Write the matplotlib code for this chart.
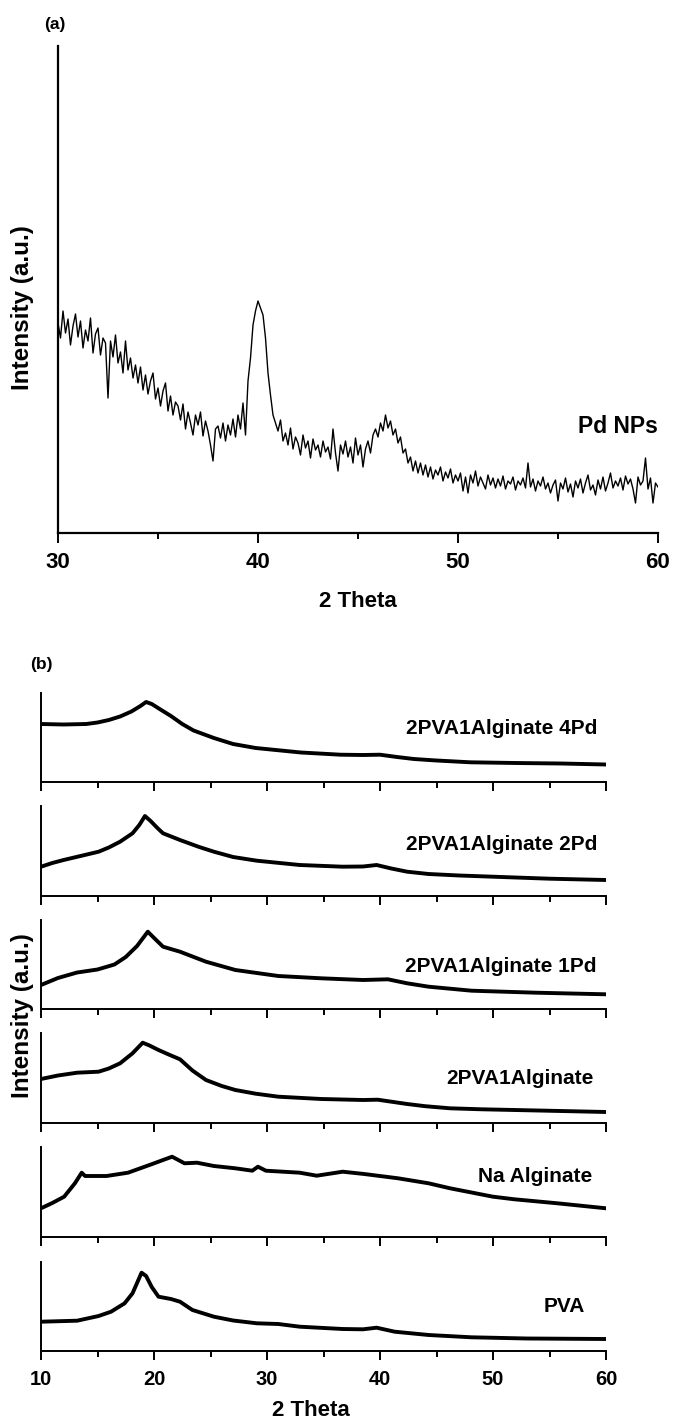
import numpy as np
import matplotlib
matplotlib.use("Agg")
import matplotlib.pyplot as plt
from matplotlib.ticker import MultipleLocator

W, H = 673, 1421
plt.rcParams['font.family'] = ['Liberation Sans', 'DejaVu Sans']
plt.rcParams['font.weight'] = 'bold'

# ---- (a) Pd NPs, counts every 0.125 deg from 30 to 60 ----
pd_start = 30.0
pd_step = 0.125
pd_counts = [
    210, 195, 222, 200, 214, 188, 207, 219,
    196, 212, 185, 203, 192, 215, 180, 199,
    205, 178, 195, 190, 135, 192, 176, 198,
    170, 181, 160, 192, 163, 175, 155, 168,
    150, 166, 143, 158, 139, 152, 160, 134,
    145, 127, 142, 150, 122, 137, 118, 131,
    127, 113, 129, 104, 121, 110, 98, 118,
    108, 121, 97, 112, 102, 88, 72, 104,
    107, 95, 110, 92, 108, 98, 114, 96,
    118, 104, 130, 98, 152, 175, 208, 222,
    232, 225, 218, 195, 160, 138, 118, 110,
    102, 113, 92, 100, 88, 105, 84, 96,
    90, 78, 98, 85, 92, 75, 94, 83,
    88, 76, 92, 81, 86, 74, 104, 80,
    62, 88, 79, 92, 76, 86, 70, 95,
    78, 88, 66, 84, 92, 80, 98, 104,
    96, 110, 102, 118, 105, 112, 98, 104,
    90, 96, 80, 84, 70, 76, 62, 72,
    60, 70, 58, 68, 56, 66, 54, 63,
    58, 66, 52, 61, 55, 64, 50, 58,
    52, 60, 42, 56, 40, 58, 50, 62,
    47, 56, 50, 44, 58, 48, 55, 45,
    54, 47, 57, 44, 52, 49, 56, 43,
    52, 48, 55, 45, 70, 46, 54, 42,
    52, 47, 56, 44, 50, 40, 48, 53,
    32, 50, 44, 55, 41, 49, 36, 52,
    45, 54, 40, 50, 58, 43, 48, 38,
    53, 44, 56, 42, 50, 60, 45, 52,
    47, 55, 43, 57, 49, 54, 44, 30,
    56, 48, 52, 75, 44, 55, 30, 50,
    46,
]

# ---- (b) six patterns, top to bottom ----
names = ["2PVA1Alginate 4Pd", "2PVA1Alginate 2Pd", "2PVA1Alginate 1Pd",
         "2PVA1Alginate", "Na Alginate", "PVA"]

theta_4pd = [10, 12, 14, 15, 16, 17, 18, 18.8, 19.3, 19.8, 20.5, 21.5, 22.5, 23.5,
             25.3, 27, 29, 33, 36.5, 38.5, 40, 41.5, 43, 45, 48, 52, 56, 60]
int_4pd = [58, 57.5, 58, 59.5, 62, 65.5, 70.5, 76, 80, 78, 73, 66, 58, 51.5,
           44, 38, 34, 29.5, 27.3, 27, 27.3, 25, 23, 21.5, 19.7, 19, 18.5, 17.5]

theta_2pd = [10, 11, 12, 13.5, 15.1, 16, 17, 18.1, 18.7, 19.2, 19.7, 20.3, 20.8, 22.3,
             24, 25.3, 27, 29.1, 32.9, 36.7, 38.5, 39.7, 41, 42.4, 44.3, 47, 50, 55, 60]
int_2pd = [29.3, 33, 36, 40, 44.3, 48.5, 54.3, 62.7, 71, 80, 75, 68, 62.7, 56,
           49, 44.3, 39, 35.3, 31, 29.3, 29.5, 31, 27.5, 24.3, 22, 20.5, 19.3, 17.3, 16]

theta_1pd = [10, 11.5, 13.2, 15, 16.5, 17.5, 18.5, 19.45, 20.1, 20.8, 22.3, 24.6,
             27.2, 31, 34.8, 38.5, 40.7, 42.4, 44.3, 48.1, 53.8, 60]
int_1pd = [24, 31, 36.5, 39.5, 44.5, 52, 63, 77.3, 70, 62.3, 57.3, 47.3,
           39, 33, 30.7, 29, 29.7, 25.7, 22.3, 18.3, 16.3, 14.7]

theta_blend = [10, 11.5, 13.2, 15.1, 16, 17, 18.1, 19, 19.6, 20.4, 21.3, 22.3, 23.4, 24.6,
               26, 27.2, 29, 31, 34.8, 38.5, 39.8, 42.4, 44, 46.2, 49, 51.9, 56, 60]
int_blend = [44, 47.5, 50.3, 51.3, 54.5, 59.7, 69.7, 80.3, 77.5, 73, 68.5, 63.7, 52.5, 43,
             37, 33, 29.3, 26.3, 24, 23, 23.3, 19, 16.8, 14.7, 13.7, 13, 12, 11]

theta_alg = [10, 11, 12.05, 13, 13.6, 13.9, 15.8, 17.7, 19.6, 21.6, 22.7, 23.8, 25.3,
             27.2, 28.7, 29.2, 29.9, 32.9, 34.4, 36.7, 38.6, 41.6, 44.3, 46.2, 50,
             51.9, 55.7, 60]
int_alg = [28.7, 34, 40.3, 53.7, 64.3, 61, 61, 64.3, 72, 80.3, 73.7, 74.3, 71,
           68.7, 66.3, 70.3, 66.3, 64.3, 61.3, 65.3, 63, 58.7, 53.7, 48.7, 40.3,
           37.7, 33.7, 28.7]

theta_pva = [10, 13.2, 15.1, 16.2, 17.4, 18.1, 18.5, 18.9, 19.3, 19.8, 20.4, 21.5, 22.3,
             23.4, 25.3, 27, 29.1, 31, 32.9, 36.7, 38.5, 39.7, 41.3, 44.3, 48.1, 53, 60]
int_pva = [29.3, 30.3, 35, 39.3, 47.7, 57.7, 68, 78.3, 75, 64, 54.3, 52, 49.3,
           41, 34.3, 30.5, 27.7, 27, 24.3, 22, 21.7, 23.3, 19.3, 16, 13.7, 12.5, 12]

series_b = [(theta_4pd, int_4pd), (theta_2pd, int_2pd), (theta_1pd, int_1pd),
            (theta_blend, int_blend), (theta_alg, int_alg), (theta_pva, int_pva)]


def box(l, t, r, b):
    return [l / W, 1 - b / H, (r - l) / W, (b - t) / H]


def style_axis(ax, spine_lw):
    ax.spines['top'].set_visible(False)
    ax.spines['right'].set_visible(False)
    ax.spines['left'].set_linewidth(spine_lw)
    ax.spines['bottom'].set_linewidth(spine_lw)
    ax.set_yticks([])
    ax.xaxis.set_major_locator(MultipleLocator(10))
    ax.xaxis.set_minor_locator(MultipleLocator(5))


fig = plt.figure(figsize=(W / 100, H / 100), dpi=100)

# panel (a)
ax_a = fig.add_axes(box(58, 46, 658, 533))
pd_theta = pd_start + pd_step * np.arange(len(pd_counts))
ax_a.plot(pd_theta, pd_counts, color='black', lw=1.0)
ax_a.set_xlim(30, 60)
ax_a.set_ylim(0, 487)
style_axis(ax_a, 1.6)
ax_a.tick_params(axis='x', which='major', direction='out', length=7.5, width=1.4,
                 pad=6, labelsize=16)
ax_a.tick_params(axis='x', which='minor', direction='out', length=4.5, width=1.4)
ax_a.text(60, 100, "Pd NPs", ha='right', va='baseline', fontsize=16.5, fontweight='bold')

fig.text(55 / W, 1 - 25 / H, "(a)", ha='center', va='center', fontsize=12.5, fontweight='bold')
fig.text(23 / W, 1 - 308 / H, "Intensity (a.u.)", rotation=90, ha='center', va='center',
         fontsize=17.5, fontweight='bold')
fig.text(358 / W, 1 - 602 / H, "2 Theta", ha='center', va='center', fontsize=16, fontweight='bold')

# panel (b)
tops = [693, 806, 920, 1033, 1147, 1262]
bottoms = [782, 896, 1009, 1123, 1237, 1351]
label_y = [47.5, 45.5, 36.5, 38.5, 55.5, 38.5]
label_x = [59.2, 59.2, 59.2, 58.9, 58.8, 58.1]

for k, (th, iv) in enumerate(series_b):
    ax = fig.add_axes(box(41, tops[k], 606, bottoms[k]))
    ax.plot(th, iv, color='black', lw=2.8, solid_joinstyle='round')
    ax.set_xlim(10, 60)
    ax.set_ylim(0, bottoms[k] - tops[k])
    style_axis(ax, 1.4)
    ax.tick_params(axis='x', which='major', direction='out', length=6.5, width=1.4,
                   pad=7, labelsize=14.5)
    ax.tick_params(axis='x', which='minor', direction='out', length=4.5, width=1.4)
    if k < len(series_b) - 1:
        ax.tick_params(axis='x', which='both', labelbottom=False)
    ax.text(label_x[k], label_y[k], names[k], ha='right', va='baseline',
            fontsize=15, fontweight='bold')

fig.text(41 / W, 1 - 665 / H, "(b)", ha='center', va='center', fontsize=12.5, fontweight='bold')
fig.text(23 / W, 1 - 1016 / H, "Intensity (a.u.)", rotation=90, ha='center', va='center',
         fontsize=17.5, fontweight='bold')
fig.text(311 / W, 1 - 1410 / H, "2 Theta", ha='center', va='center', fontsize=16, fontweight='bold')

fig.savefig("out.png", dpi=100)
